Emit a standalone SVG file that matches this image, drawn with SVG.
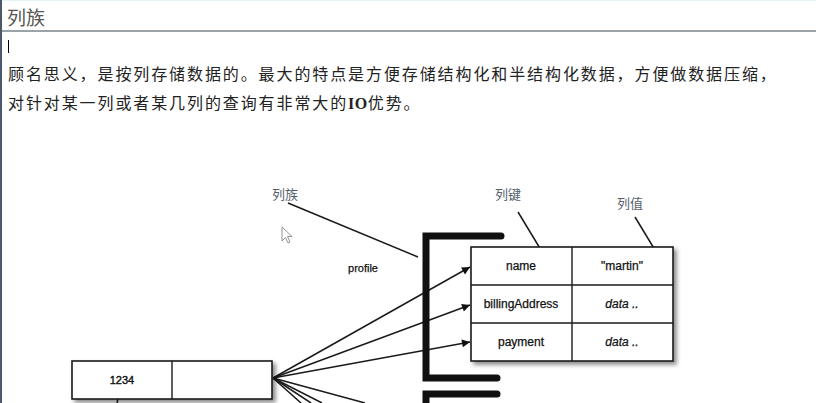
<svg xmlns="http://www.w3.org/2000/svg" width="816" height="403" viewBox="0 0 816 403">
  <defs>
    <style>
      .body { font-family: "Noto Sans CJK SC", "Noto Sans", sans-serif; font-size: 16px; fill: #222; letter-spacing: 1.9px; }
      .head { font-family: "Noto Sans CJK SC", sans-serif; font-size: 19px; fill: #555; }
      .lbl { font-family: "Noto Sans CJK SC", sans-serif; font-size: 13px; fill: #56606c; }
      .cell { font-family: "Liberation Sans", Arial, sans-serif; font-size: 12px; fill: #111; stroke: #111; stroke-width: 0.25; text-anchor: middle; }
      .it { font-style: italic; }
      .ln { stroke: #1a1a1a; stroke-width: 1.5; fill: none; }
      .box { fill: #fff; stroke: #1a1a1a; stroke-width: 1.6; }
      .div { stroke: #1a1a1a; stroke-width: 1.4; }
      .brk { stroke: #111; stroke-width: 7; fill: none; stroke-linecap: round; stroke-linejoin: miter; }
    </style>
    <marker id="ah" viewBox="0 0 10 10" refX="10" refY="5" markerWidth="11" markerHeight="8" markerUnits="userSpaceOnUse" orient="auto">
      <path d="M0,0 L10,5 L0,10 Z" fill="#111"/>
    </marker>
    <filter id="sh" x="-10%" y="-20%" width="125%" height="150%">
      <feDropShadow dx="3" dy="3" stdDeviation="2" flood-color="#000" flood-opacity="0.45"/>
    </filter>
  </defs>

  <rect width="816" height="403" fill="#fff"/>
  <line x1="0" y1="0.5" x2="816" y2="0.5" stroke="#e6f2f6" stroke-width="1"/>
  <line x1="1" y1="0" x2="1" y2="403" stroke="#4a5a6a" stroke-width="2"/>
  <line x1="2" y1="31" x2="816" y2="31" stroke="#9aa3a8" stroke-width="2"/>

  <g id="header">
    <text class="head" x="7" y="25">列族</text>
  </g>
  <line x1="8.5" y1="40" x2="8.5" y2="53" stroke="#000" stroke-width="1"/>

  <g id="paragraph">
    <text class="body" x="8" y="80">顾名思义，是按列存储数据的。最大的特点是方便存储结构化和半结构化数据，方便做数据压缩，</text>
    <text class="body" x="8" y="109">对针对某一列或者某几列的查询有非常大的<tspan font-family="Liberation Serif, serif" font-weight="bold" letter-spacing="0.5">IO</tspan>优势。</text>
  </g>

  <g id="connectors">
    <line class="ln" x1="288" y1="203" x2="418" y2="257"/>
    <line class="ln" x1="518" y1="212" x2="541" y2="250"/>
    <line class="ln" x1="635" y1="217" x2="658" y2="255"/>
    <line class="ln" x1="120" y1="389" x2="117" y2="403"/>
    <line class="ln" x1="273" y1="378" x2="470" y2="267" marker-end="url(#ah)"/>
    <line class="ln" x1="273" y1="378" x2="470" y2="305" marker-end="url(#ah)"/>
    <line class="ln" x1="273" y1="378" x2="470" y2="342" marker-end="url(#ah)"/>
    <line class="ln" x1="273" y1="378" x2="365" y2="403"/>
    <line class="ln" x1="273" y1="378" x2="322" y2="403"/>
    <line class="ln" x1="273" y1="378" x2="311" y2="403"/>
    <line class="ln" x1="273" y1="378" x2="301" y2="403"/>
  </g>

  <g id="label-column-family">
    <text class="lbl" x="272" y="199">列族</text>
  </g>
  <g id="label-column-key">
    <text class="lbl" x="495" y="199">列键</text>
  </g>
  <g id="label-column-value">
    <text class="lbl" x="617" y="208">列值</text>
  </g>

  <g id="profile-bracket">
    <path class="brk" d="M501,236 L426,236 L426,378 L497,378"/>
    <text class="cell" x="363" y="272" style="font-size:11px">profile</text>
  </g>
  <g id="next-bracket">
    <path class="brk" d="M497,394 L426,394 L426,410"/>
  </g>

  <g id="columns-table">
    <rect class="box" x="471" y="247" width="202" height="114" filter="url(#sh)"/>
    <line class="div" x1="471" y1="285" x2="673" y2="285"/>
    <line class="div" x1="471" y1="323" x2="673" y2="323"/>
    <line class="div" x1="572" y1="247" x2="572" y2="361"/>
    <text class="cell" x="521" y="270">name</text>
    <text class="cell" x="622" y="270">"martin"</text>
    <text class="cell" x="521" y="308">billingAddress</text>
    <text class="cell it" x="622" y="308">data ..</text>
    <text class="cell" x="521" y="346">payment</text>
    <text class="cell it" x="622" y="346">data ..</text>
  </g>

  <g id="row-key">
    <rect class="box" x="72" y="361" width="200" height="38" filter="url(#sh)"/>
    <line class="div" x1="172" y1="361" x2="172" y2="399"/>
    <text class="cell" x="122" y="384" style="font-size:11px; stroke-width:0.4">1234</text>
  </g>

  <g id="cursor">
    <path d="M282,227 L282,241 L285.5,237.5 L288,243 L290,242 L287.5,236.5 L292,236.5 Z" fill="#fff" stroke="#777" stroke-width="0.8"/>
  </g>
</svg>
